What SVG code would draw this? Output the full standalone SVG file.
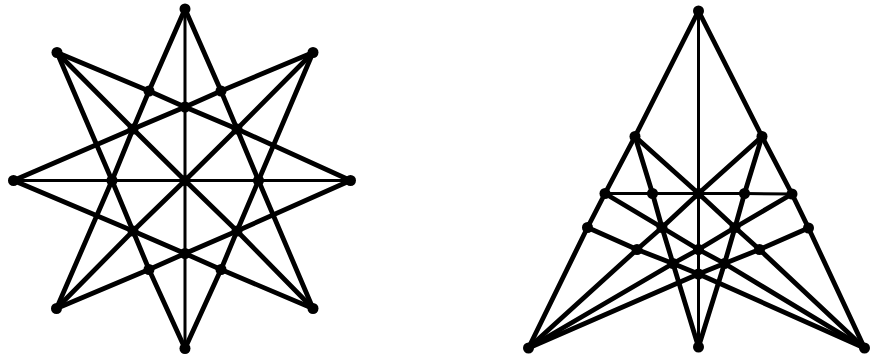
<svg xmlns="http://www.w3.org/2000/svg" width="870" height="361" viewBox="0 0 870 361">
<style>
.e{fill:none;stroke:#000;stroke-width:4.8;stroke-linejoin:round;stroke-linecap:round}
.h{fill:none;stroke:#000;stroke-width:3;stroke-linecap:round}
.n{fill:#000}
</style>
<defs><circle id="dot" r="5.5" class="n"/></defs>
<rect width="870" height="361" fill="#fff"/>
<g id="connectors">
<!-- left star -->
<polyline class="h" points="185,9 185,107 185,180.5 185,253.5 185,348.5"/>
<polyline class="h" points="13.5,180.5 112,180.5 185,180.5 258.5,180.5 350.5,180.5"/>
<polyline class="e" points="185,9 149,91 133,129 112,180.5 56.5,308.5"/>
<polyline class="e" points="185,9 221,91 237,129 258.5,180.5 313,308.5"/>
<polyline class="e" points="185,348.5 149,269.5 133,231 112,180.5 57,52.5"/>
<polyline class="e" points="185,348.5 221,269.5 237,231 258.5,180.5 313,52.5"/>
<polyline class="e" points="57,52.5 149,91 185,107 237,129 350.5,180.5"/>
<polyline class="e" points="313,52.5 221,91 185,107 133,129 13.5,180.5"/>
<polyline class="e" points="56.5,308.5 149,269.5 185,253.5 237,231 350.5,180.5"/>
<polyline class="e" points="313,308.5 221,269.5 185,253.5 133,231 13.5,180.5"/>
<polyline class="e" points="57,52.5 133,129 185,180.5 237,231 313,308.5"/>
<polyline class="e" points="313,52.5 237,129 185,180.5 133,231 56.5,308.5"/>
<!-- right figure -->
<polyline class="h" points="698.5,11 698.5,193.5 698.5,249.5 698.5,274 698.5,347"/>
<polyline class="h" points="605,193.5 652.5,193.5 698.5,193.5 744.5,193.5 792,194"/>
<polyline class="e" points="698.5,11 635,136.5 605,193.5 587.5,227.5 528.5,348"/>
<polyline class="e" points="698.5,11 762,136.5 792,194 808.5,228 864.5,348"/>
<polyline class="e" points="635,136.5 652.5,193.5 662,227.5 673,263.5 698.5,347"/>
<polyline class="e" points="762,136.5 744.5,193.5 735,227.5 724.5,263.5 698.5,347"/>
<polyline class="e" points="635,136.5 698.5,193.5 735,227.5 759.5,249.5 864.5,348"/>
<polyline class="e" points="762,136.5 698.5,193.5 662,227.5 637,249.5 528.5,348"/>
<polyline class="e" points="605,193.5 662,227.5 698.5,249.5 724.5,263.5 864.5,348"/>
<polyline class="e" points="792,194 735,227.5 698.5,249.5 673,263.5 528.5,348"/>
<polyline class="e" points="587.5,227.5 637,249.5 673,263.5 698.5,274 864.5,348"/>
<polyline class="e" points="808.5,228 759.5,249.5 724.5,263.5 698.5,274 528.5,348"/>
</g>
<g id="L_T"><use href="#dot" x="185" y="9"/></g>
<g id="L_TR"><use href="#dot" x="313" y="52.5"/></g>
<g id="L_R"><use href="#dot" x="350.5" y="180.5"/></g>
<g id="L_BR"><use href="#dot" x="313" y="308.5"/></g>
<g id="L_B"><use href="#dot" x="185" y="348.5"/></g>
<g id="L_BL"><use href="#dot" x="56.5" y="308.5"/></g>
<g id="L_L"><use href="#dot" x="13.5" y="180.5"/></g>
<g id="L_TL"><use href="#dot" x="57" y="52.5"/></g>
<g id="L_a1"><use href="#dot" x="149" y="91"/></g>
<g id="L_a2"><use href="#dot" x="221" y="91"/></g>
<g id="L_m1"><use href="#dot" x="185" y="107"/></g>
<g id="L_b1"><use href="#dot" x="133" y="129"/></g>
<g id="L_b2"><use href="#dot" x="237" y="129"/></g>
<g id="L_c1"><use href="#dot" x="112" y="180.5"/></g>
<g id="L_C"><use href="#dot" x="185" y="180.5"/></g>
<g id="L_c2"><use href="#dot" x="258.5" y="180.5"/></g>
<g id="L_b3"><use href="#dot" x="133" y="231"/></g>
<g id="L_b4"><use href="#dot" x="237" y="231"/></g>
<g id="L_m2"><use href="#dot" x="185" y="253.5"/></g>
<g id="L_a3"><use href="#dot" x="149" y="269.5"/></g>
<g id="L_a4"><use href="#dot" x="221" y="269.5"/></g>
<g id="R_A"><use href="#dot" x="698.5" y="11"/></g>
<g id="R_P1"><use href="#dot" x="635" y="136.5"/></g>
<g id="R_P2"><use href="#dot" x="762" y="136.5"/></g>
<g id="R_Q1"><use href="#dot" x="605" y="193.5"/></g>
<g id="R_Q2"><use href="#dot" x="652.5" y="193.5"/></g>
<g id="R_Q3"><use href="#dot" x="698.5" y="193.5"/></g>
<g id="R_Q4"><use href="#dot" x="744.5" y="193.5"/></g>
<g id="R_Q5"><use href="#dot" x="792" y="194"/></g>
<g id="R_R1"><use href="#dot" x="587.5" y="227.5"/></g>
<g id="R_R2"><use href="#dot" x="662" y="227.5"/></g>
<g id="R_R3"><use href="#dot" x="735" y="227.5"/></g>
<g id="R_R4"><use href="#dot" x="808.5" y="228"/></g>
<g id="R_U1"><use href="#dot" x="637" y="249.5"/></g>
<g id="R_V"><use href="#dot" x="698.5" y="249.5"/></g>
<g id="R_U3"><use href="#dot" x="759.5" y="249.5"/></g>
<g id="R_S1"><use href="#dot" x="673" y="263.5"/></g>
<g id="R_S2"><use href="#dot" x="724.5" y="263.5"/></g>
<g id="R_W"><use href="#dot" x="698.5" y="274"/></g>
<g id="R_BL"><use href="#dot" x="528.5" y="348"/></g>
<g id="R_M"><use href="#dot" x="698.5" y="347"/></g>
<g id="R_BR"><use href="#dot" x="864.5" y="348"/></g>
</svg>
